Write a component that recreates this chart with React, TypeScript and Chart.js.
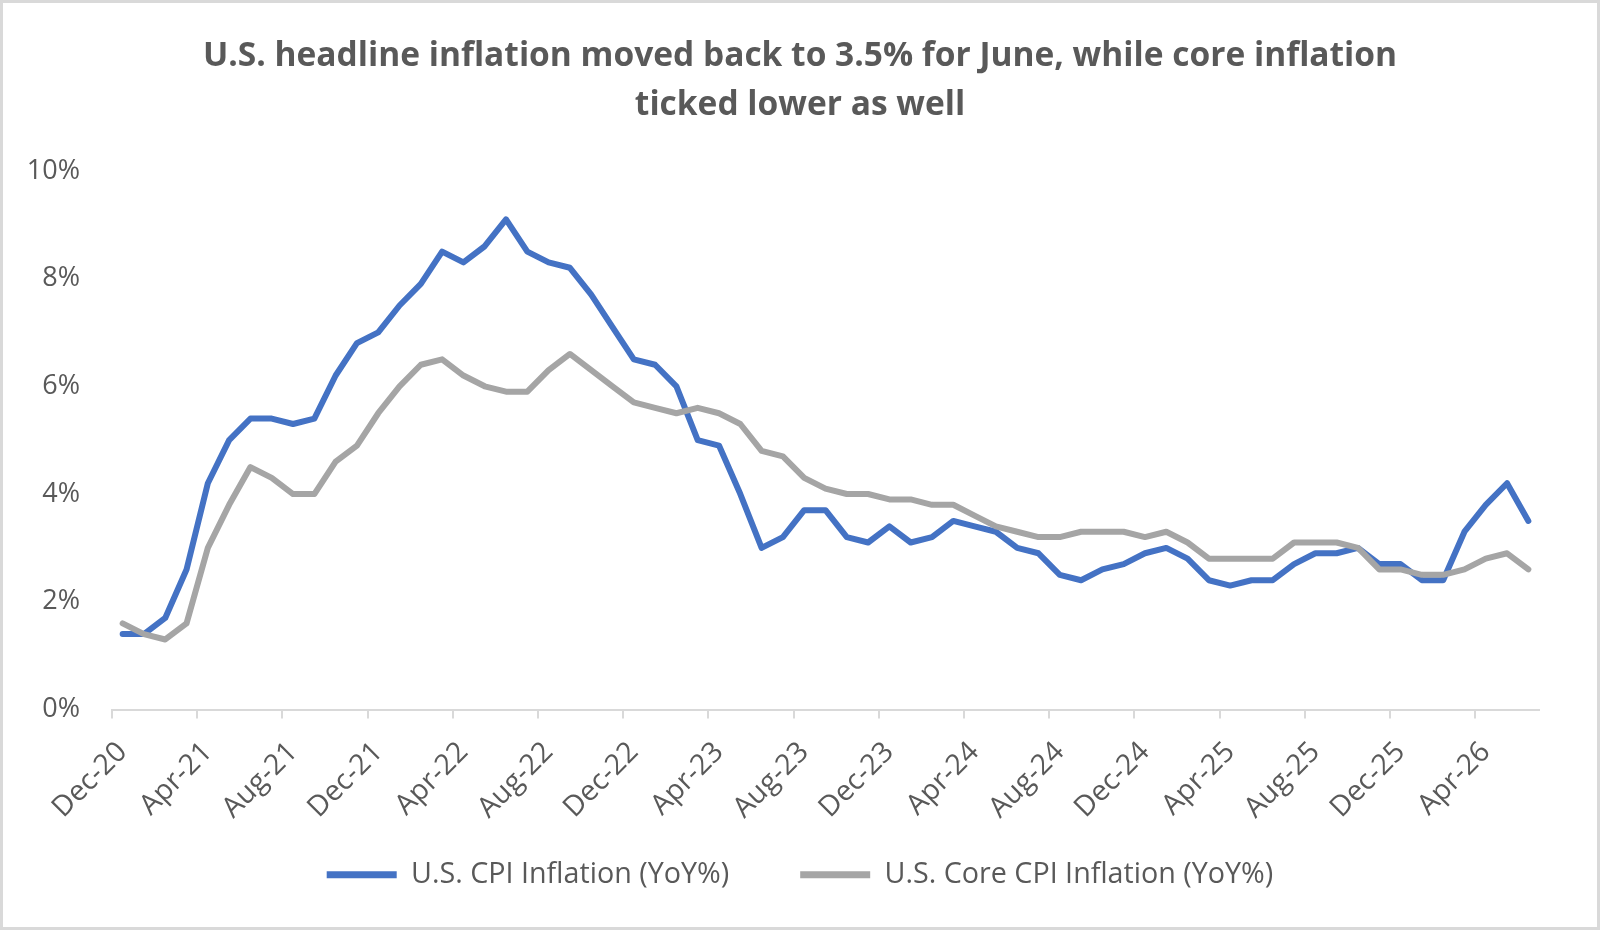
import React, { useEffect, useRef } from "react";
import { Chart, registerables } from "chart.js";

Chart.register(...registerables);

const TITLE_LINES = [
  "U.S. headline inflation moved back to 3.5% for June, while core inflation",
  "ticked lower as well",
];

const MONTHS = [
  "Dec-20",
  "Jan-21", "Feb-21", "Mar-21", "Apr-21", "May-21", "Jun-21", "Jul-21", "Aug-21", "Sep-21", "Oct-21", "Nov-21", "Dec-21",
  "Jan-22", "Feb-22", "Mar-22", "Apr-22", "May-22", "Jun-22", "Jul-22", "Aug-22", "Sep-22", "Oct-22", "Nov-22", "Dec-22",
  "Jan-23", "Feb-23", "Mar-23", "Apr-23", "May-23", "Jun-23", "Jul-23", "Aug-23", "Sep-23", "Oct-23", "Nov-23", "Dec-23",
  "Jan-24", "Feb-24", "Mar-24", "Apr-24", "May-24", "Jun-24", "Jul-24", "Aug-24", "Sep-24", "Oct-24", "Nov-24", "Dec-24",
  "Jan-25", "Feb-25", "Mar-25", "Apr-25", "May-25", "Jun-25", "Jul-25", "Aug-25", "Sep-25", "Oct-25", "Nov-25", "Dec-25",
  "Jan-26", "Feb-26", "Mar-26", "Apr-26", "May-26", "Jun-26",
];

const CPI = [
  1.4,
  1.4, 1.7, 2.6, 4.2, 5.0, 5.4, 5.4, 5.3, 5.4, 6.2, 6.8, 7.0,
  7.5, 7.9, 8.5, 8.3, 8.6, 9.1, 8.5, 8.3, 8.2, 7.7, 7.1, 6.5,
  6.4, 6.0, 5.0, 4.9, 4.0, 3.0, 3.2, 3.7, 3.7, 3.2, 3.1, 3.4,
  3.1, 3.2, 3.5, 3.4, 3.3, 3.0, 2.9, 2.5, 2.4, 2.6, 2.7, 2.9,
  3.0, 2.8, 2.4, 2.3, 2.4, 2.4, 2.7, 2.9, 2.9, 3.0, 2.7, 2.7,
  2.4, 2.4, 3.3, 3.8, 4.2, 3.5,
];

const CORE_CPI = [
  1.6,
  1.4, 1.3, 1.6, 3.0, 3.8, 4.5, 4.3, 4.0, 4.0, 4.6, 4.9, 5.5,
  6.0, 6.4, 6.5, 6.2, 6.0, 5.9, 5.9, 6.3, 6.6, 6.3, 6.0, 5.7,
  5.6, 5.5, 5.6, 5.5, 5.3, 4.8, 4.7, 4.3, 4.1, 4.0, 4.0, 3.9,
  3.9, 3.8, 3.8, 3.6, 3.4, 3.3, 3.2, 3.2, 3.3, 3.3, 3.3, 3.2,
  3.3, 3.1, 2.8, 2.8, 2.8, 2.8, 3.1, 3.1, 3.1, 3.0, 2.6, 2.6,
  2.5, 2.5, 2.6, 2.8, 2.9, 2.6,
];

const SERIES_NAMES = ["U.S. CPI Inflation (YoY%)", "U.S. Core CPI Inflation (YoY%)"];
const Y_TICKS = [0, 2, 4, 6, 8, 10];

const TEXT = "#595959";
const AXIS = "#d9d9d9";
const BLUE = "#4472C4";
const GRAY = "#A5A5A5";
const FONT = "'Open Sans', 'Noto Sans', sans-serif";

export default function App() {
  const ref = useRef<HTMLCanvasElement | null>(null);

  useEffect(() => {
    document.body.style.margin = "0";
    const canvas = ref.current;
    if (!canvas) return;
    const chart = new Chart(canvas, {
      type: "line",
      data: {
        labels: MONTHS,
        datasets: [
          {
            label: SERIES_NAMES[0],
            data: CPI,
            borderColor: BLUE,
            backgroundColor: BLUE,
            borderWidth: 6,
            borderCapStyle: "round",
            borderJoinStyle: "round",
            pointRadius: 0,
            pointStyle: "line",
            tension: 0,
            order: 1,
          },
          {
            label: SERIES_NAMES[1],
            data: CORE_CPI,
            borderColor: GRAY,
            backgroundColor: GRAY,
            borderWidth: 6,
            borderCapStyle: "round",
            borderJoinStyle: "round",
            pointRadius: 0,
            pointStyle: "line",
            tension: 0,
            order: 0,
          },
        ],
      },
      options: {
        responsive: false,
        animation: false,
        layout: { padding: { left: 0, right: 0, top: 0, bottom: 30.8 } },
        plugins: {
          tooltip: { enabled: false },
          title: {
            display: true,
            text: TITLE_LINES,
            color: TEXT,
            font: { family: FONT, size: 33.5, weight: "bold", lineHeight: 1.46 },
            padding: { top: 32, bottom: 41 },
          },
          legend: {
            position: "bottom",
            title: {
              display: true,
              text: "",
              font: { family: FONT, size: 10, lineHeight: 1.2 },
              padding: { top: -21, bottom: -21 },
            },
            labels: {
              usePointStyle: true,
              pointStyleWidth: 70,
              color: TEXT,
              font: { family: FONT, size: 28.7 },
              padding: 71,
              sort: (a: any, b: any) => a.datasetIndex - b.datasetIndex,
              generateLabels: (c: any) =>
                Chart.defaults.plugins.legend.labels
                  .generateLabels(c)
                  .map((item: any) => ({ ...item, lineWidth: 7 })),
            },
          },
        },
        scales: {
          x: {
            type: "category",
            offset: true,
            afterFit: (scale: any) => {
              scale.height = 110;
            },
            grid: {
              offset: true,
              drawOnChartArea: false,
              drawTicks: true,
              tickLength: 9,
              lineWidth: 2,
              color: (ctx: any) => (ctx.index % 4 === 0 ? AXIS : "rgba(0,0,0,0)"),
            },
            border: { display: true, color: AXIS, width: 2 },
            ticks: {
              autoSkip: false,
              minRotation: 45,
              maxRotation: 45,
              padding: 17,
              color: TEXT,
              font: { family: FONT, size: 28.5 },
              callback: (_v: any, i: number) => (i % 4 === 0 ? MONTHS[i] : ""),
            },
          },
          y: {
            min: Y_TICKS[0],
            max: Y_TICKS[Y_TICKS.length - 1],
            afterFit: (scale: any) => {
              scale.width = 112;
            },
            afterBuildTicks: (scale: any) => {
              scale.ticks = Y_TICKS.map((v) => ({ value: v }));
            },
            grid: { display: false, drawTicks: false },
            border: { display: false },
            ticks: {
              padding: 32,
              color: TEXT,
              font: { family: FONT, size: 27 },
              callback: (v: any) => `${v}%`,
            },
          },
          yRight: {
            position: "right",
            display: true,
            afterFit: (scale: any) => {
              scale.width = 61;
            },
            grid: { display: false, drawTicks: false },
            border: { display: false },
            ticks: { display: false },
          },
        },
      },
    });
    return () => chart.destroy();
  }, []);

  return (
    <div style={{ position: "relative", width: 1600, height: 930, background: "#fff" }}>
      <canvas ref={ref} width={1600} height={930} style={{ display: "block" }} />
      <div
        style={{
          position: "absolute",
          inset: 0,
          border: "3px solid #d9d9d9",
          boxSizing: "border-box",
          pointerEvents: "none",
        }}
      />
    </div>
  );
}
